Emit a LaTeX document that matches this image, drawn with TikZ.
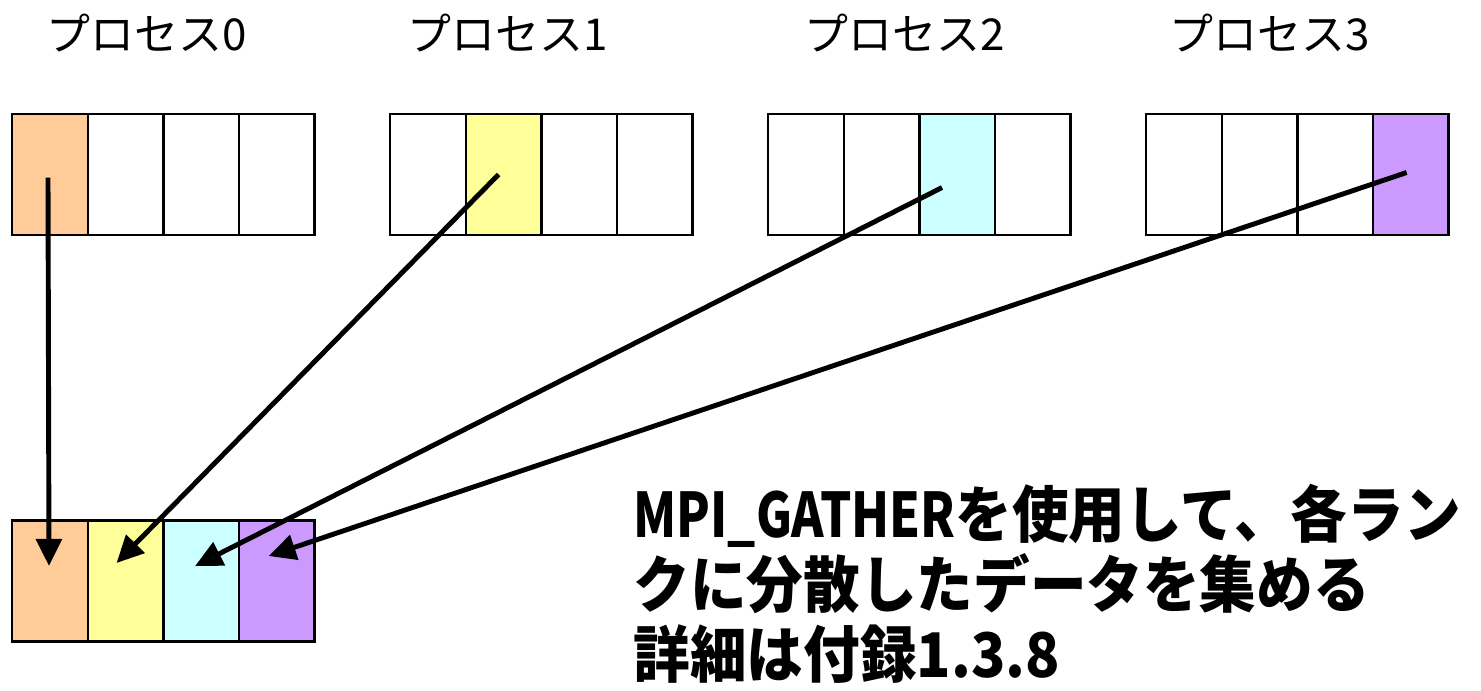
\documentclass[tikz,border=0pt]{standalone}
\usepackage{fontspec}
\usepackage{graphicx}
\newfontfamily\jpfont{Noto Sans CJK JP}
\newfontfamily\notefont[FakeStretch=0.92]{Noto Sans CJK JP}
\usetikzlibrary{positioning,arrows.meta}
\definecolor{rank0}{HTML}{FFCC99}
\definecolor{rank1}{HTML}{FFFF99}
\definecolor{rank2}{HTML}{CCFFFF}
\definecolor{rank3}{HTML}{CC99FF}
\tikzset{
  cell/.style={draw,line width=0.7pt,inner sep=0pt,outer sep=0pt,
    minimum width=0.755cm,minimum height=1.21cm},
  proclabel/.style={font=\jpfont\fontsize{12.5}{14}\selectfont},
  gather/.style={line width=1.4pt,-{Triangle[length=7.7pt,width=7.2pt]}}
}
\begin{document}
\begin{tikzpicture}[x=0.01cm,y=-0.01cm]
      \useasboundingbox (0,0) rectangle (1481,690);
      \node[proclabel] (lab0) at (147,33) {プロセス0};
      \node[proclabel] (lab1) at (508,33) {プロセス1};
      \node[proclabel] (lab2) at (905,33) {プロセス2};
      \node[proclabel] (lab3) at (1270,33) {プロセス3};
      % send buffers
      \node[cell,fill=rank0] (p0a) at (50,174.5) {};
      \node[cell,right=0pt of p0a] (p0b) {};
      \node[cell,right=0pt of p0b] (p0c) {};
      \node[cell,right=0pt of p0c] (p0d) {};
      \node[cell] (p1a) at (428,174.5) {};
      \node[cell,fill=rank1,right=0pt of p1a] (p1b) {};
      \node[cell,right=0pt of p1b] (p1c) {};
      \node[cell,right=0pt of p1c] (p1d) {};
      \node[cell] (p2a) at (806,174.5) {};
      \node[cell,right=0pt of p2a] (p2b) {};
      \node[cell,fill=rank2,right=0pt of p2b] (p2c) {};
      \node[cell,right=0pt of p2c] (p2d) {};
      \node[cell] (p3a) at (1184,174.5) {};
      \node[cell,right=0pt of p3a] (p3b) {};
      \node[cell,right=0pt of p3b] (p3c) {};
      \node[cell,fill=rank3,right=0pt of p3c] (p3d) {};
      % receive buffer
      \node[cell,fill=rank0] (r0) at (50,581) {};
      \node[cell,fill=rank1,right=0pt of r0] (r1) {};
      \node[cell,fill=rank2,right=0pt of r1] (r2) {};
      \node[cell,fill=rank3,right=0pt of r2] (r3) {};
      \begin{scope}[gather]
        \draw ([shift={(-2,3)}]p0a.center) to ([shift={(-1,-15)}]r0.center);
        \draw ([shift={(-5,0)}]p1b.center) to ([shift={(-9,-18)}]r1.center);
        \draw ([shift={(-15,13)}]p2c.center) to ([shift={(-6,-15)}]r2.center);
        \draw ([shift={(-4,-2)}]p3d.center) to ([shift={(-8,-25)}]r3.center);
      \end{scope}
      \node[anchor=base west,align=left,inner sep=0pt,
        font=\notefont\bfseries\fontsize{17.5}{19.9}\selectfont] (note) at (633,677)
        {\scalebox{0.87}[1]{MPI\_GATHER}を使用して、各ラン\\クに分散したデータを集める\\詳細は付録1.3.8};
    \end{tikzpicture}
\end{document}
